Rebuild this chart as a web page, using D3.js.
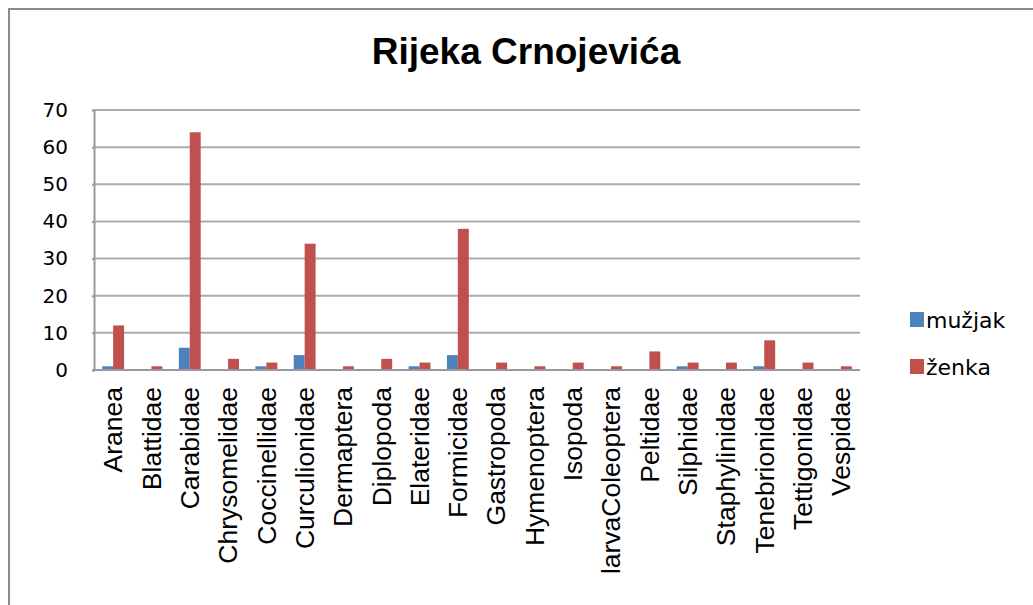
<!DOCTYPE html>
<html>
<head>
<meta charset="utf-8">
<script src="https://cdn.jsdelivr.net/npm/d3@7"></script>
<style>
  html, body { margin: 0; padding: 0; background: #fff; }
  svg { display: block; }
</style>
</head>
<body>
<svg id="chart" width="1033" height="605"></svg>
<script>
const title = "Rijeka Crnojevića";
const categories = ["Aranea","Blattidae","Carabidae","Chrysomelidae","Coccinellidae","Curculionidae","Dermaptera","Diplopoda","Elateridae","Formicidae","Gastropoda","Hymenoptera","Isopoda","larvaColeoptera","Peltidae","Silphidae","Staphylinidae","Tenebrionidae","Tettigonidae","Vespidae"];
const seriesNames = ["mužjak","ženka"];
const muzjak = [1,0,6,0,1,4,0,0,1,4,0,0,0,0,0,1,0,1,0,0];
const zenka  = [12,1,64,3,2,34,1,3,2,38,2,1,2,1,5,2,2,8,2,1];
const yTicks = [0,10,20,30,40,50,60,70];
const colors = ["#4F81BD","#C0504D"];

const svg = d3.select("#chart");

// outer chart border
svg.append("rect").attr("x",9).attr("y",9).attr("width",1040).attr("height",620)
  .attr("fill","#fff").attr("stroke","#8c8c8c").attr("stroke-width",2);

const pL = 94, pR = 860, pT = 110, pB = 370;
const x = d3.scaleBand().domain(categories).range([pL,pR]).paddingInner(0).paddingOuter(0);
const y = d3.scaleLinear().domain([0,70]).range([pB,pT]);

// gridlines
svg.append("g").selectAll("line").data(yTicks.filter(d=>d>0)).join("line")
  .attr("x1",pL).attr("x2",pR)
  .attr("y1",d=>y(d)).attr("y2",d=>y(d))
  .attr("stroke","#ababab").attr("stroke-width",2);

// bars
const bw = x.bandwidth()/3.5;
const sub = d3.scaleBand().domain([0,1]).range([0,2*bw]);
const series = [muzjak, zenka];
series.forEach((vals,si)=>{
  svg.append("g").selectAll("rect").data(categories).join("rect")
    .attr("x",(c)=>x(c)+(x.bandwidth()-2*bw)/2+sub(si))
    .attr("width",sub.bandwidth())
    .attr("y",(c,i)=>y(vals[i]))
    .attr("height",(c,i)=>y(0)-y(vals[i]))
    .attr("fill",colors[si]);
});

// y axis
const yAxis = d3.axisLeft(y).tickValues(yTicks).tickSize(2).tickPadding(24);
const gy = svg.append("g").attr("transform",`translate(${pL},0)`).call(yAxis);
gy.select(".domain").attr("stroke","#9a9a9a").attr("stroke-width",2);
gy.selectAll(".tick line").attr("stroke","#9a9a9a").attr("stroke-width",2);
gy.selectAll("text").attr("font-family","'DejaVu Sans', sans-serif").attr("font-size",20).attr("fill","#000");

// x axis
const xAxis = d3.axisBottom(x).tickSize(0).tickPadding(0);
const gx = svg.append("g").attr("transform",`translate(0,${pB})`).call(xAxis);
gx.select(".domain").attr("stroke","#9a9a9a").attr("stroke-width",2).attr("d",`M${pL},0H${pR}`);
gx.selectAll("text")
  .attr("font-family","'Liberation Sans', Arial, sans-serif").attr("font-size",26.5).attr("fill","#000")
  .attr("transform","rotate(-90)")
  .attr("text-anchor","end")
  .attr("x",-17).attr("y",0).attr("dy","0.35em");

// title
svg.append("text").attr("x",526).attr("y",64).attr("text-anchor","middle")
  .attr("font-family","'Liberation Sans', Arial, sans-serif").attr("font-weight","bold")
  .attr("font-size",37).attr("fill","#000").text(title);

// legend
const lg = svg.append("g");
seriesNames.forEach((n,i)=>{
  const yy = 312 + i*47;
  lg.append("rect").attr("x",910).attr("y",yy).attr("width",14).attr("height",15).attr("fill",colors[i]);
  lg.append("text").attr("x",926).attr("y",yy+16).attr("font-family","'DejaVu Sans', sans-serif")
    .attr("font-size",22).attr("fill","#000").text(n);
});
</script>
</body>
</html>
